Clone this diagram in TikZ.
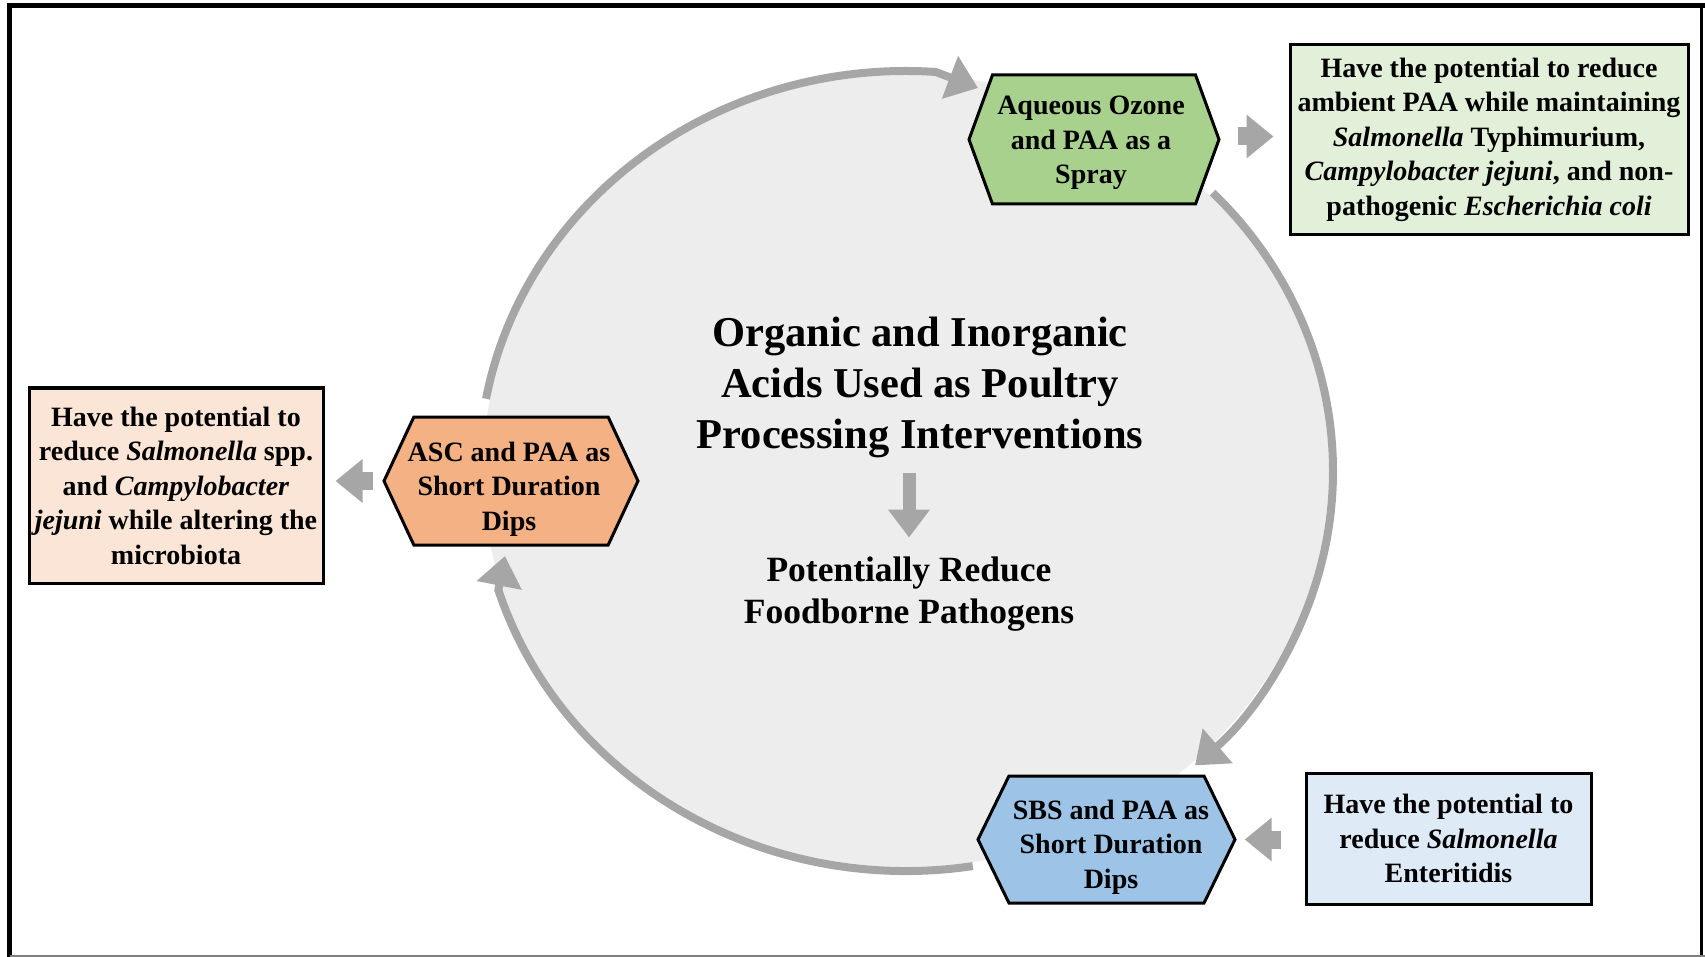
\documentclass[tikz,border=0pt]{standalone}
\usepackage{fontspec}
\setmainfont{Liberation Serif}
\usetikzlibrary{arrows.meta,shapes.symbols,shapes.geometric}
\definecolor{arrgray}{HTML}{A6A6A6}
\definecolor{circfill}{HTML}{EDEDED}
\definecolor{hexgreen}{HTML}{A9D18E}
\definecolor{boxgreen}{HTML}{E2F0D9}
\definecolor{hexorange}{HTML}{F4B183}
\definecolor{boxorange}{HTML}{FBE5D6}
\definecolor{hexblue}{HTML}{9DC3E6}
\definecolor{boxblue}{HTML}{DEEBF7}
\begin{document}
\begin{tikzpicture}[x=1pt,y=-1pt,
  hexnode/.style={signal, signal to=east and west, draw=black, line width=3pt, inner sep=0pt},
  hextext/.style={inner sep=0pt, align=center, font=\fontsize{28}{34.5}\selectfont\bfseries},
  infobox/.style={rectangle, draw=black, line width=3pt, inner sep=0pt, align=center, font=\fontsize{28}{34.5}\selectfont\bfseries},
  cyclearrow/.style={draw=arrgray, line width=8pt, -{Triangle[width=44pt,length=30pt]}},
  blockarrow/.style={draw=arrgray, line width=18pt, -{Triangle[width=42pt,length=27pt]}},
]
\useasboundingbox (0,0) rectangle (1705,957);
\fill[white] (0,0) rectangle (1705,957);
% frame
\draw[line width=5pt] (9.5,957) -- (9.5,5.5) -- (1705,5.5);
\draw[line width=2.5pt] (1701.5,5.5) -- (1701.5,957);
\draw[line width=2pt, gray] (9.5,956) -- (1705,956);

% central disc
\node[ellipse, fill=circfill, draw=none, inner sep=0pt, minimum width=846, minimum height=792] (circ) at (906,471) {};

% cycle arcs
\coordinate (tipTop) at (978,88);
\coordinate (tipLeft) at (505,556);
\draw[cyclearrow] ([shift={(-169.6:427 and 400)}]circ.center) arc[start angle=-169.6, end angle=-86, x radius=427, y radius=400] -- (tipTop);
\draw[cyclearrow] ([shift={(-44.1:427 and 400)}]circ.center) arc[start angle=-44.1, end angle=47.4, x radius=427, y radius=400];
\draw[cyclearrow] ([shift={(81:427 and 400)}]circ.center) arc[start angle=81, end angle=162.7, x radius=427, y radius=400] -- (tipLeft);

% hexagons
\node[hexnode, fill=hexgreen, signal pointer angle=140, minimum width=250, minimum height=129] (hexG) at (1094,139.5) {};
\node[hexnode, fill=hexorange, signal pointer angle=130, minimum width=254, minimum height=128] (hexO) at (511,481) {};
\node[hexnode, fill=hexblue, signal pointer angle=128, minimum width=257, minimum height=127] (hexB) at (1106.5,839.5) {};
\node[hextext] (txtG) at (1091,143) {Aqueous Ozone\\and PAA as a\\Spray};
\node[hextext] (txtO) at (509,489) {ASC and PAA as\\Short Duration\\Dips};
\node[hextext] (txtB) at (1111,847) {SBS and PAA as\\Short Duration\\Dips};

% info boxes
\node[infobox, fill=boxgreen, minimum width=398, minimum height=190] (boxG) at (1489,139.5)
  {Have the potential to reduce\\ambient PAA while maintaining\\\textit{Salmonella} Typhimurium,\\\textit{Campylobacter jejuni}, and non-\\pathogenic \textit{Escherichia coli}};
\node[infobox, fill=boxorange, minimum width=294, minimum height=195] (boxO) at (176,485.5)
  {Have the potential to\\reduce \textit{Salmonella} spp.\\and \textit{Campylobacter}\\\textit{jejuni} while altering the\\microbiota};
\node[infobox, fill=boxblue, minimum width=285, minimum height=131] (boxB) at (1448.5,838.5)
  {Have the potential to\\reduce \textit{Salmonella}\\Enteritidis};

% block arrows
\draw[blockarrow, shorten <=17pt, shorten >=15pt] ([yshift=3pt]hexG.east) -- ([yshift=3pt]hexG.east -| boxG.west);
\draw[blockarrow, shorten <=9pt, shorten >=11pt] (hexO.west) -- (hexO.west -| boxO.east);
\draw[blockarrow, shorten <=24pt, shorten >=8pt] (boxB.west |- hexB.east) -- (hexB.east);

% centre texts
\node[inner sep=0pt, align=center, font=\fontsize{42.5}{51}\selectfont\bfseries] (title) at (920,387)
  {Organic and Inorganic\\Acids Used as Poultry\\Processing Interventions};
\node[inner sep=0pt, align=center, font=\fontsize{35.5}{42}\selectfont\bfseries] (lower) at (909,594)
  {Potentially Reduce\\Foodborne Pathogens};
\draw[draw=arrgray, line width=13pt, -{Triangle[width=40pt,length=28pt]}, shorten <=15pt, shorten >=19pt]
  (title.south -| lower.north) -- (lower.north);
\end{tikzpicture}
\end{document}
